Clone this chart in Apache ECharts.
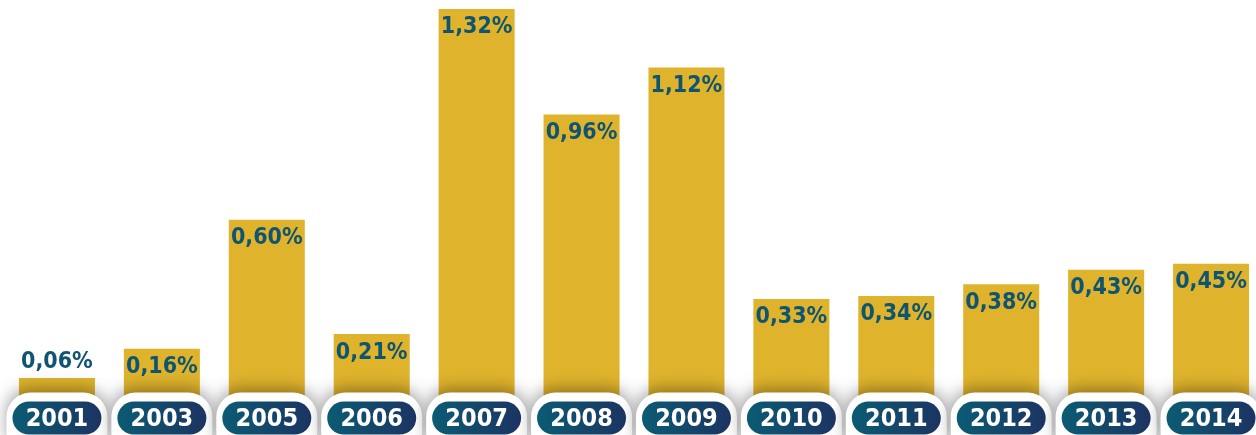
<!DOCTYPE html>
<html>
<head>
<meta charset="utf-8">
<script src="https://cdn.jsdelivr.net/npm/echarts@6/dist/echarts.min.js"></script>
<style>
html,body{margin:0;padding:0;background:#fff;}
#chart{width:1256px;height:435px;}
</style>
</head>
<body>
<div id="chart"></div>
<script>
var categories = ['2001','2003','2005','2006','2007','2008','2009','2010','2011','2012','2013','2014'];
var values = [0.06, 0.16, 0.60, 0.21, 1.32, 0.96, 1.12, 0.33, 0.34, 0.38, 0.43, 0.45];
var valueLabels = ['0,06%','0,16%','0,60%','0,21%','1,32%','0,96%','1,12%','0,33%','0,34%','0,38%','0,43%','0,45%'];

var FONT = "'DejaVu Sans Condensed', 'Liberation Sans Narrow', 'DejaVu Sans', sans-serif";
var chart = echarts.init(document.getElementById('chart'));

var data = values.map(function (v, i) {
  var item = { value: v };
  if (v < 0.1) {
    item.label = { position: 'top', distance: 4 };
  }
  return item;
});

var pillGradient = new echarts.graphic.LinearGradient(0, 0, 1, 0, [
  { offset: 0, color: '#0B5B73' },
  { offset: 1, color: '#1C3462' }
]);

function renderPill(params, api) {
  var i = api.value(0);
  var pt = api.coord([i, 0]);
  var x = pt[0], y0 = pt[1];
  var w = 89, h = 33;
  var top = y0 + 6;
  return {
    type: 'group',
    children: [
      {
        type: 'rect',
        shape: { x: x - w / 2 - 6, y: y0 - 3, width: w + 12, height: h + 30, r: 24 },
        style: { fill: '#ffffff', shadowBlur: 16, shadowColor: 'rgba(0,0,0,0.36)', shadowOffsetY: -4 }
      },
      {
        type: 'rect',
        shape: { x: x - w / 2, y: top, width: w, height: h, r: h / 2 },
        style: { fill: pillGradient }
      },
      {
        type: 'text',
        style: {
          text: categories[i],
          x: x,
          y: top + h / 2 + 1,
          align: 'center',
          verticalAlign: 'middle',
          fill: '#ffffff',
          fontFamily: FONT,
          fontWeight: 'bold',
          fontSize: 25
        }
      }
    ]
  };
}

chart.setOption({
  animation: false,
  backgroundColor: '#ffffff',
  grid: { left: 4.5, right: -7.5, top: 9, bottom: 39.4, containLabel: false, outerBoundsMode: 'none' },
  xAxis: {
    type: 'category',
    data: categories,
    axisLine: { show: false },
    axisTick: { show: false },
    axisLabel: { show: false }
  },
  yAxis: {
    type: 'value',
    min: 0,
    max: 1.32,
    show: false,
    splitLine: { show: false }
  },
  series: [{
    type: 'bar',
    data: data,
    barWidth: 76,
    itemStyle: { color: '#DFB32C' },
    label: {
      show: true,
      position: 'insideTop',
      distance: 7,
      color: '#0F5571',
      fontFamily: FONT,
      fontWeight: 'bold',
      fontSize: 23,
      formatter: function (p) { return valueLabels[p.dataIndex]; }
    }
  }, {
    type: 'custom',
    z: 10,
    clip: false,
    silent: true,
    data: categories.map(function (c, i) { return [i]; }),
    renderItem: renderPill
  }]
});
</script>
</body>
</html>
